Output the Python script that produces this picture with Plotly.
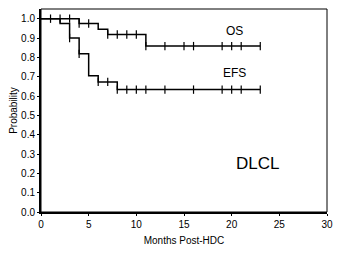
import plotly.graph_objects as go

# Kaplan-Meier step data
os_times = [0, 4, 6, 7, 11, 23]
os_surv = [1.0, 0.975, 0.945, 0.918, 0.858, 0.858]
os_censor = [1, 2, 3, 4, 5, 7, 8, 9, 10, 11, 13, 15, 16, 19, 20, 21, 23]

efs_times = [0, 2, 3, 4, 5, 6, 8, 23]
efs_surv = [1.0, 0.975, 0.90, 0.818, 0.705, 0.673, 0.633, 0.633]
efs_censor = [3, 4, 6, 7, 8, 9, 10, 11, 13, 16, 19, 20, 21, 23]

x_ticks = [0, 5, 10, 15, 20, 25, 30]
y_ticks = [0.0, 0.1, 0.2, 0.3, 0.4, 0.5, 0.6, 0.7, 0.8, 0.9, 1.0]


def step_value(times, surv, t):
    v = surv[0]
    for ti, si in zip(times, surv):
        if ti <= t:
            v = si
    return v


fig = go.Figure()
for times, surv, cens in [(os_times, os_surv, os_censor), (efs_times, efs_surv, efs_censor)]:
    fig.add_trace(go.Scatter(x=times, y=surv, mode="lines", line=dict(color="black", width=1.5, shape="hv"),
                             showlegend=False, hoverinfo="skip"))
    fig.add_trace(go.Scatter(x=cens, y=[step_value(times, surv, t) for t in cens], mode="markers",
                             marker=dict(symbol="line-ns-open", size=6, color="black",
                                         line=dict(color="black", width=1.2)),
                             showlegend=False, hoverinfo="skip"))

font = "Liberation Sans, Arial, sans-serif"
fig.add_annotation(x=20.3, y=0.935, text="OS", showarrow=False, font=dict(family=font, size=12, color="black"))
fig.add_annotation(x=20.3, y=0.72, text="EFS", showarrow=False, font=dict(family=font, size=12, color="black"))
fig.add_annotation(x=22.7, y=0.25, text="DLCL", showarrow=False, font=dict(family=font, size=17, color="black"))

fig.add_shape(type="rect", xref="paper", yref="paper", x0=0, y0=0, x1=1, y1=1,
              line=dict(color="black", width=1))

# page body adds an 8px offset, so the figure is sized and margined to compensate
fig.update_layout(
    width=348, height=249,
    margin=dict(l=33, r=29, t=1, b=45),
    paper_bgcolor="white", plot_bgcolor="white",
    font=dict(family=font, size=10, color="black"),
    xaxis=dict(range=[0, 30], tickvals=x_ticks, ticktext=[str(v) for v in x_ticks], automargin=False,
               showgrid=False, zeroline=False, showline=True, linecolor="black", linewidth=2,
               ticks="outside", ticklen=2, tickcolor="black",
               title=dict(text="Months Post-HDC", font=dict(size=10, color="black"), standoff=8)),
    yaxis=dict(range=[0, 1.05], tickvals=y_ticks, ticktext=[f"{v:.1f}" for v in y_ticks], automargin=False,
               showgrid=False, zeroline=False, showline=True, linecolor="black", linewidth=2,
               ticks="outside", ticklen=2, tickcolor="black",
               title=dict(text="Probability", font=dict(size=10, color="black"), standoff=6)),
)

fig.write_html("out.html")
